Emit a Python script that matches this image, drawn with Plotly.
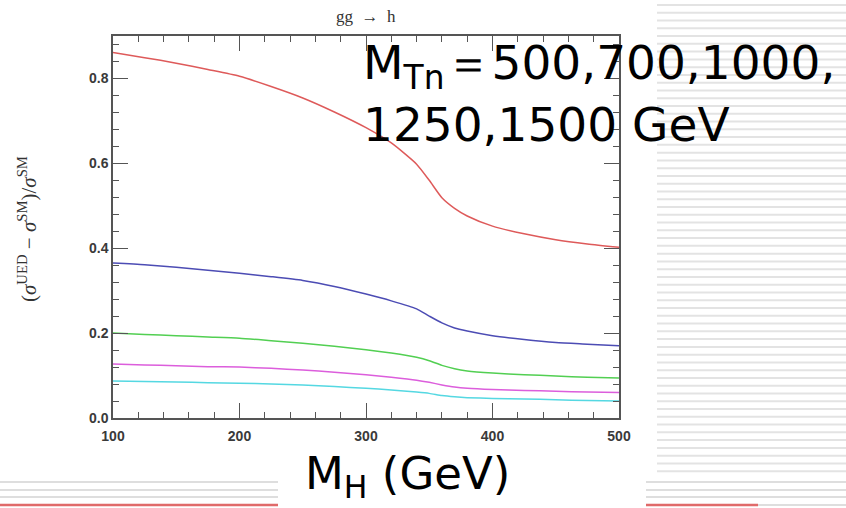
import plotly.graph_objects as go

# ---- data ----
mh = [100, 125, 150, 175, 200, 225, 250, 275, 300, 320, 340, 350, 360, 370, 380, 400, 425, 450, 475, 500]
r_500 = [0.861, 0.849, 0.836, 0.821, 0.805, 0.781, 0.754, 0.721, 0.684, 0.648, 0.598, 0.560, 0.519, 0.494, 0.476, 0.452, 0.434, 0.420, 0.410, 0.402]
r_700 = [0.365, 0.361, 0.355, 0.348, 0.341, 0.333, 0.324, 0.310, 0.292, 0.276, 0.257, 0.240, 0.224, 0.212, 0.205, 0.194, 0.185, 0.178, 0.174, 0.170]
r_1000 = [0.200, 0.197, 0.194, 0.191, 0.188, 0.182, 0.176, 0.169, 0.161, 0.153, 0.143, 0.135, 0.124, 0.116, 0.111, 0.106, 0.102, 0.099, 0.096, 0.094]
r_1250 = [0.127, 0.125, 0.123, 0.121, 0.120, 0.117, 0.113, 0.108, 0.102, 0.096, 0.089, 0.084, 0.078, 0.073, 0.070, 0.067, 0.065, 0.063, 0.061, 0.060]
r_1500 = [0.087, 0.086, 0.085, 0.083, 0.082, 0.080, 0.078, 0.074, 0.070, 0.066, 0.061, 0.058, 0.053, 0.050, 0.048, 0.046, 0.045, 0.043, 0.041, 0.040]
series_names = ["M_Tn=500", "M_Tn=700", "M_Tn=1000", "M_Tn=1250", "M_Tn=1500"]
series_vals = [r_500, r_700, r_1000, r_1250, r_1500]
colors = ["#de5a5a", "#4c4cb4", "#52cf52", "#dc5edc", "#55d8e2"]
x_ticks = [100, 200, 300, 400, 500]
y_ticks = [0.0, 0.2, 0.4, 0.6, 0.8]

W, H = 846, 508
L, R, T, B = 113, 619, 36, 418

def px(xp):
    return (xp - L) / (R - L)

def py(yp):
    return (B - yp) / (B - T)

fig = go.Figure()
for name, vals, c in zip(series_names, series_vals, colors):
    fig.add_trace(go.Scatter(x=mh, y=vals, mode="lines", name=name,
                             line=dict(color=c, width=1.5, shape="spline", smoothing=0.6),
                             showlegend=False))

axis_common = dict(showline=True, linecolor="#555", linewidth=1.5, mirror="ticks",
                   ticks="inside", ticklen=15, tickwidth=1.2, tickcolor="#555",
                   showgrid=False, zeroline=False,
                   tickfont=dict(family="Liberation Sans", size=14, color="#3a3a3a", weight="bold"))

fig.update_xaxes(range=[100, 500], tickvals=x_ticks, ticktext=[str(v) for v in x_ticks],
                 ticklabelstandoff=4,
                 minor=dict(dtick=20, ticks="inside", ticklen=6, tickcolor="#555", tickwidth=1),
                 **axis_common)
fig.update_yaxes(range=[0, 0.9], tickvals=y_ticks, ticktext=["%.1f" % v for v in y_ticks],
                 minor=dict(dtick=0.04, ticks="inside", ticklen=6, tickcolor="#555", tickwidth=1),
                 **axis_common)

shapes = []
# right striped decoration
y = 5.0
while y <= 476:
    shapes.append(dict(type="line", xref="paper", yref="paper", x0=px(657), x1=px(846),
                       y0=py(y), y1=py(y), line=dict(color="#e3e3e3", width=2), layer="below"))
    y += 7.77
# bottom bands
for yb in [482, 490, 497]:
    for (xa, xb) in [(0, 278), (646, 846)]:
        shapes.append(dict(type="line", xref="paper", yref="paper", x0=px(xa), x1=px(xb),
                           y0=py(yb), y1=py(yb), line=dict(color="#dedede", width=2), layer="below"))
shapes.append(dict(type="line", xref="paper", yref="paper", x0=px(758), x1=px(846),
                   y0=py(505), y1=py(505), line=dict(color="#dedede", width=2), layer="below"))
for (xa, xb) in [(0, 278), (646, 758)]:
    shapes.append(dict(type="line", xref="paper", yref="paper", x0=px(xa), x1=px(xb),
                       y0=py(505), y1=py(505), line=dict(color="#e06a6a", width=2.5), layer="below"))

big = dict(family="DejaVu Sans", size=47, color="#000")
annotations = [
    dict(text="gg  →  h", x=0.5, y=py(16), xref="paper", yref="paper", showarrow=False,
         xanchor="center", yanchor="middle",
         font=dict(family="Liberation Serif", size=17, color="#333")),
    dict(text="(<i>σ</i><sup>UED</sup> − <i>σ</i><sup>SM</sup>)/<i>σ</i><sup>SM</sup>",
         x=px(28), y=py(229), xref="paper", yref="paper", showarrow=False, textangle=-90,
         xanchor="center", yanchor="middle",
         font=dict(family="Liberation Serif", size=21, color="#333")),
    dict(text="M<sub>Tn</sub>＝500,700,1000,", x=px(361), y=py(66), xref="paper", yref="paper",
         xanchor="left", yanchor="middle", showarrow=False, font=big),
    dict(text="1250,1500 GeV", x=px(361), y=py(124), xref="paper", yref="paper",
         xanchor="left", yanchor="middle", showarrow=False, font=big),
    dict(text="M<sub>H</sub> (GeV)", x=px(407), y=py(476), xref="paper", yref="paper",
         xanchor="center", yanchor="middle", showarrow=False,
         font=dict(family="DejaVu Sans", size=45, color="#000")),
]

fig.update_layout(width=W, height=H, margin=dict(l=L, r=W - R, t=T, b=H - B, pad=0),
                  paper_bgcolor="white", plot_bgcolor="rgba(0,0,0,0)",
                  shapes=shapes, annotations=annotations, showlegend=False)

fig.write_html("out.html")
